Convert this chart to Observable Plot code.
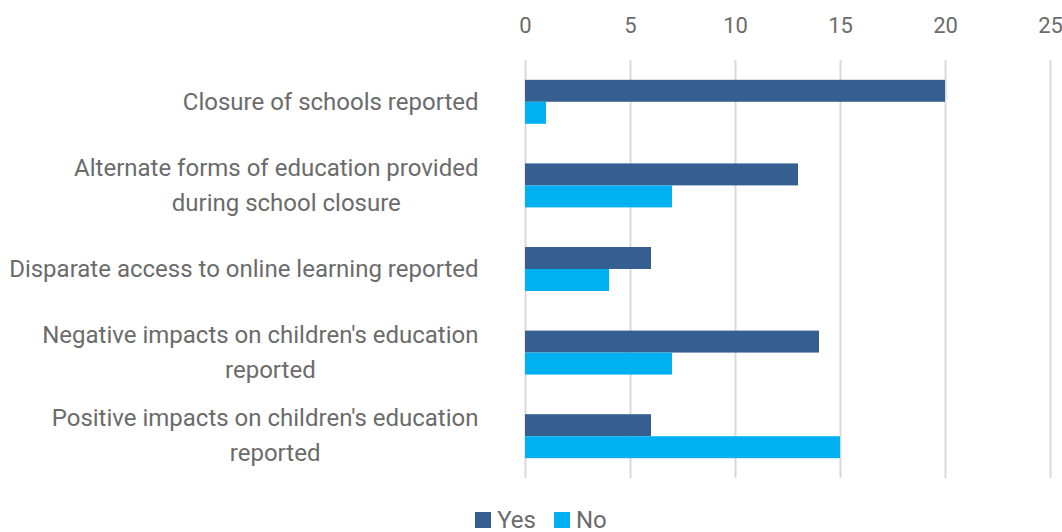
<!DOCTYPE html>
<html>
<head>
<meta charset="utf-8">
<script src="https://cdn.jsdelivr.net/npm/d3@7"></script>
<script src="https://cdn.jsdelivr.net/npm/@observablehq/plot@0.6"></script>
<style>
  body { margin: 0; background: #fff; font-family: Roboto, "Liberation Sans", sans-serif; }
  #legend { display: flex; justify-content: center; gap: 18px; height: 32px; align-items: center; margin-left: 20px; margin-top: 4px; font-size: 24px; color: #6b6b6b; }
  #legend span.item { display: inline-flex; align-items: center; gap: 6px; }
  #legend i { display: inline-block; width: 16px; height: 16px; }
</style>
</head>
<body>
<div id="chart"></div>
<div id="legend"></div>
<script>
const categories = [
  "Closure of schools reported",
  "Alternate forms of education provided\nduring school closure",
  "Disparate access to online learning reported",
  "Negative impacts on children's education\nreported",
  "Positive impacts on children's education\nreported"
];
const seriesNames = ["Yes", "No"];
const yesValues = [20, 13, 6, 14, 6];
const noValues = [1, 7, 4, 7, 15];
const xTicks = [0, 5, 10, 15, 20, 25];
const colors = ["#365f91", "#00b0f0"];

const yesData = categories.map((c, i) => ({category: c, series: "Yes", value: yesValues[i]}));
const noData = categories.map((c, i) => ({category: c, series: "No", value: noValues[i]}));

const plot = Plot.plot({
  width: 1062,
  height: 500,
  marginLeft: 525,
  marginRight: 12,
  marginTop: 60,
  marginBottom: 22,
  style: {fontFamily: "Roboto, 'Liberation Sans', sans-serif", background: "#fff"},
  x: {domain: [0, 25], ticks: xTicks},
  y: {domain: categories, paddingInner: 0.474, paddingOuter: 0.237, round: false},
  color: {domain: seriesNames, range: colors},
  marks: [
    Plot.gridX(xTicks, {stroke: "#d9d9d9", strokeOpacity: 1, strokeWidth: 2}),
    Plot.barX(yesData, {x: "value", y: "category", fill: "series", insetBottom: 22, insetTop: 0}),
    Plot.barX(noData, {x: "value", y: "category", fill: "series", insetTop: 22, insetBottom: 0}),
    Plot.axisX(xTicks, {anchor: "top", tickSize: 0, tickPadding: 28, fontSize: 22, fill: "#6b6b6b", label: null}),
    Plot.axisY({tickSize: 0, tickPadding: 47, fontSize: 24, dy: -4, fill: "#6b6b6b", lineHeight: 1.46, label: null, tickFormat: d => d})
  ]
});
document.getElementById("chart").appendChild(plot);

// center multi-line labels within their right-aligned block
plot.querySelectorAll("g[aria-label='y-axis tick label'] text").forEach(t => {
  const spans = t.querySelectorAll("tspan");
  if (spans.length > 1) {
    const w = t.getBBox().width;
    t.setAttribute("text-anchor", "middle");
    spans.forEach((s, k) => s.setAttribute("x", -w / 2 + (k > 0 ? 10 : 0)));
  }
});

const legend = document.getElementById("legend");
seriesNames.forEach((s, i) => {
  const item = document.createElement("span");
  item.className = "item";
  item.innerHTML = `<i style="background:${colors[i]}"></i>${s}`;
  legend.appendChild(item);
});
</script>
</body>
</html>
